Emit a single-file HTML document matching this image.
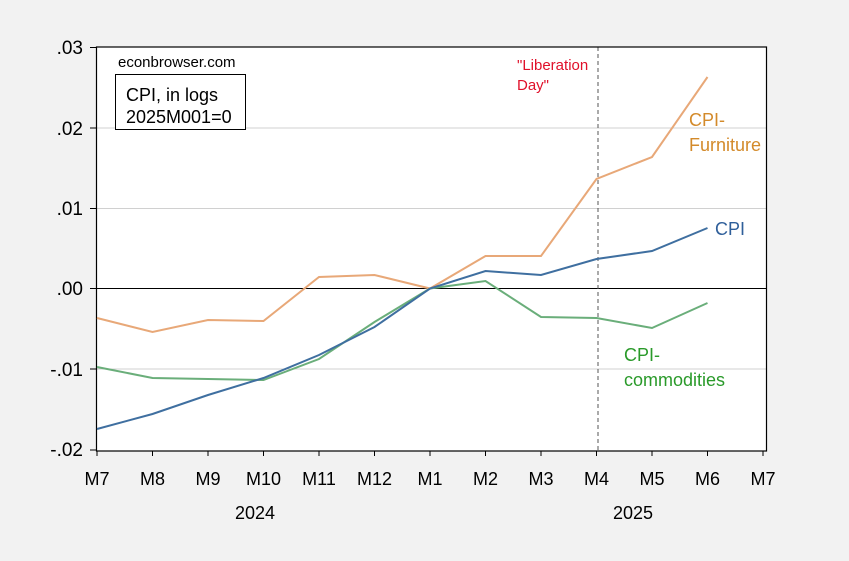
<!DOCTYPE html>
<html><head><style>body{margin:0;background:#f2f2f2}svg{display:block}text{font-family:"Liberation Sans",Arial,sans-serif}</style></head><body>
<svg width="849" height="561" xmlns="http://www.w3.org/2000/svg">
<rect width="849" height="561" fill="#f2f2f2"/>
<rect x="96.5" y="47" width="670" height="404" fill="#fff"/>
<g stroke="#d0d0d0" stroke-width="1">
<line x1="97" x2="767" y1="128" y2="128"/><line x1="97" x2="767" y1="208.5" y2="208.5"/><line x1="97" x2="767" y1="369" y2="369"/>
</g>
<line x1="97" x2="767" y1="288.5" y2="288.5" stroke="#000"/>
<line x1="598" x2="598" y1="47" y2="451" stroke="#555" stroke-dasharray="4,3"/>
<rect x="96.5" y="47" width="670" height="404" fill="none" stroke="#000" stroke-width="1.2"/>
<g stroke="#000">
<line x1="90" x2="96" y1="47.5" y2="47.5"/><line x1="90" x2="96" y1="128" y2="128"/><line x1="90" x2="96" y1="208.5" y2="208.5"/><line x1="90" x2="96" y1="288.5" y2="288.5"/><line x1="90" x2="96" y1="369" y2="369"/><line x1="90" x2="96" y1="450" y2="450"/>
</g>
<g font-size="19" text-anchor="end" fill="#000">
<text x="83" y="54">.03</text><text x="83" y="135">.02</text><text x="83" y="215">.01</text><text x="83" y="295">.00</text><text x="83" y="376">-.01</text><text x="83" y="456">-.02</text>
</g>
<g font-size="18" text-anchor="middle" fill="#000">
<text x="97" y="485">M7</text><text x="152.5" y="485">M8</text><text x="208" y="485">M9</text><text x="263.5" y="485">M10</text><text x="319" y="485">M11</text><text x="374.5" y="485">M12</text><text x="430" y="485">M1</text><text x="485.5" y="485">M2</text><text x="541" y="485">M3</text><text x="596.5" y="485">M4</text><text x="652" y="485">M5</text><text x="707.5" y="485">M6</text><text x="763" y="485">M7</text>
<text x="255" y="519">2024</text><text x="633" y="519">2025</text>
</g>
<g stroke="#000">
<line x1="97" x2="97" y1="451" y2="456"/><line x1="152.5" x2="152.5" y1="451" y2="456"/><line x1="208" x2="208" y1="451" y2="456"/><line x1="263.5" x2="263.5" y1="451" y2="456"/><line x1="319" x2="319" y1="451" y2="456"/><line x1="374.5" x2="374.5" y1="451" y2="456"/><line x1="430" x2="430" y1="451" y2="456"/><line x1="485.5" x2="485.5" y1="451" y2="456"/><line x1="541" x2="541" y1="451" y2="456"/><line x1="596.5" x2="596.5" y1="451" y2="456"/><line x1="652" x2="652" y1="451" y2="456"/><line x1="707.5" x2="707.5" y1="451" y2="456"/><line x1="763" x2="763" y1="451" y2="456"/>
</g>
<polyline fill="none" stroke="#e8a878" stroke-width="2" points="97,318 152.5,332 208,320 263.5,321 319,277 374.5,275 430,288.5 485.5,256 541,256 596.5,179 652,157 707.5,77"/>
<polyline fill="none" stroke="#6aae7a" stroke-width="2" points="97,367 152.5,378 208,379 263.5,380 319,359 374.5,322 430,288.5 485.5,281 541,317 596.5,318 652,328 707.5,303"/>
<polyline fill="none" stroke="#3f6fa0" stroke-width="2" points="97,429 152.5,414 208,395 263.5,378 319,355 374.5,327 430,288.5 485.5,271 541,275 596.5,259 652,251 707.5,228"/>
<text x="118" y="67" font-size="15">econbrowser.com</text>
<rect x="115.5" y="74.5" width="130" height="55" fill="#fff" stroke="#000"/>
<text x="126" y="101" font-size="18">CPI, in logs</text>
<text x="126" y="123" font-size="18">2025M001=0</text>
<text x="517" y="70" font-size="15" fill="#e0102a">"Liberation</text>
<text x="517" y="90" font-size="15" fill="#e0102a">Day"</text>
<text x="689" y="126" font-size="18" fill="#d38a2a">CPI-</text>
<text x="689" y="151" font-size="18" fill="#d38a2a">Furniture</text>
<text x="715" y="235" font-size="18" fill="#2f5f9a">CPI</text>
<text x="624" y="361" font-size="18" fill="#2a9a2a">CPI-</text>
<text x="624" y="386" font-size="18" fill="#2a9a2a">commodities</text>
</svg>
</body></html>
